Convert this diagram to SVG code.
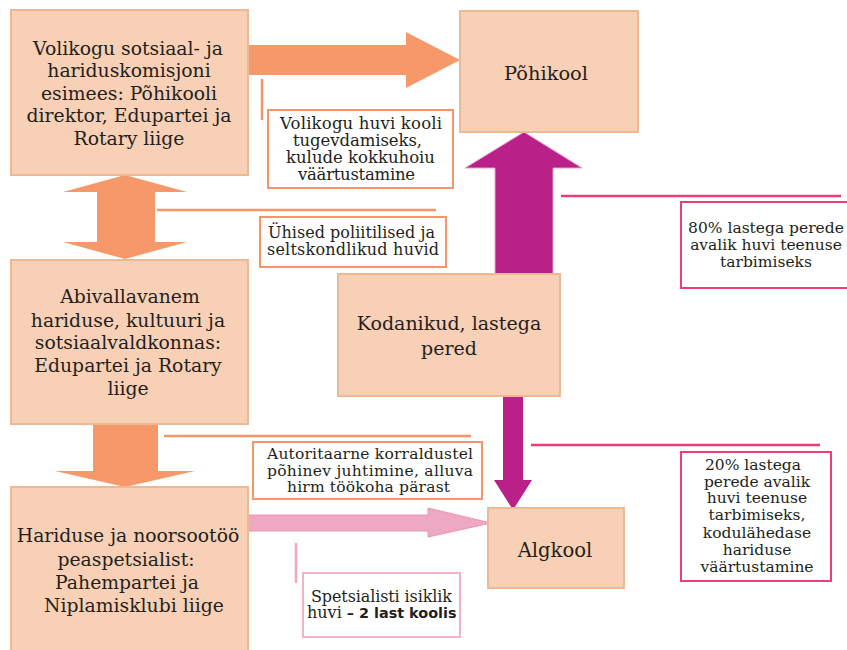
<svg xmlns="http://www.w3.org/2000/svg" width="847" height="650" viewBox="0 0 847 650">
<style>
.node rect{fill:#F8D0B6;stroke:#EDB894;stroke-width:2}
.nt{font-family:"DejaVu Serif","Liberation Serif",serif;font-size:18.8px;fill:#231F20;text-anchor:middle}
.ct{font-family:"DejaVu Serif","Liberation Serif",serif;font-size:15.5px;fill:#231F20;text-anchor:middle}
.cs{font-family:"DejaVu Serif","Liberation Serif",serif;font-size:15.5px;fill:#231F20}
.co rect{fill:#fff;stroke:#F4956A;stroke-width:2}
.cp rect{fill:#fff;stroke:#EC3D78;stroke-width:2}
.cl rect{fill:#fff;stroke:#F2B3C8;stroke-width:2}
.org{fill:#F7986A}
.mag{fill:#BA2188}
.lo{stroke:#F4956A;stroke-width:2.5;fill:none}
.lp{stroke:#EC3D78;stroke-width:2.5;fill:none}
.ll{stroke:#F0A8C2;stroke-width:2.5;fill:none}
</style>
<rect width="847" height="650" fill="#fff"/>
<g id="connectors">
<polygon class="org" points="248,45 406,45 406,32 460,60 406,88 406,75 248,75"/>
<polygon class="org" points="125,175 187,192 155,192 155,242 187,242 125,259 63,242 97,242 97,192 63,192"/>
<polygon class="org" points="93,424 158,424 158,471 195,471 125,487 55,471 93,471"/>
<polygon class="mag" points="524,132 582,168 553,168 553,275 495,275 495,168 465,168" stroke="#E9A0CC" stroke-width="1"/>
<polygon class="mag" points="503,396 523,396 523,480 532,480 513,510 494,480 503,480"/>
<polygon points="248,515 428,515 428,508 491,523 428,537 428,531 248,531" fill="#EFA8C2" stroke="#EA95B4" stroke-width="1"/>
<line class="lo" x1="262" y1="79" x2="262" y2="120"/>
<line class="lo" x1="157" y1="210" x2="436" y2="210"/>
<line class="lo" x1="164" y1="436" x2="471" y2="436"/>
<line class="ll" x1="296" y1="543" x2="296" y2="583"/>
<line class="lp" x1="561" y1="196" x2="841" y2="196"/>
<line class="lp" x1="531" y1="445" x2="820" y2="445"/>
</g>
<g id="n-volikogu" class="node">
<rect x="11" y="10" width="237" height="165"/>
<text class="nt"><tspan x="128" y="55">Volikogu sotsiaal-  ja</tspan><tspan x="129" y="77">hariduskomisjoni</tspan><tspan x="129" y="100">esimees: Põhikooli</tspan><tspan x="129" y="122">direktor, Edupartei ja</tspan><tspan x="129" y="145">Rotary liige</tspan></text>
</g>
<g id="n-pohikool" class="node">
<rect x="460" y="11" width="178" height="121"/>
<text class="nt" x="546" y="80" style="font-size:19.4px">Põhikool</text>
</g>
<g id="n-abivallavanem" class="node">
<rect x="11" y="260" width="237" height="164"/>
<text class="nt"><tspan x="130" y="303">Abivallavanem</tspan><tspan x="128" y="327">hariduse, kultuuri ja</tspan><tspan x="128" y="349">sotsiaalvaldkonnas:</tspan><tspan x="128" y="372">Edupartei ja Rotary</tspan><tspan x="128" y="395">liige</tspan></text>
</g>
<g id="n-kodanikud" class="node">
<rect x="338" y="274" width="222" height="122"/>
<text class="nt" style="font-size:19px"><tspan x="449" y="330">Kodanikud, lastega</tspan><tspan x="449" y="355">pered</tspan></text>
</g>
<g id="n-peaspetsialist" class="node">
<rect x="11" y="487" width="237" height="175"/>
<text class="nt"><tspan x="128" y="542">Hariduse ja noorsootöö</tspan><tspan x="126" y="566">peaspetsialist:</tspan><tspan x="127" y="589">Pahempartei ja</tspan><tspan x="134" y="612">Niplamisklubi liige</tspan></text>
</g>
<g id="n-algkool" class="node">
<rect x="488" y="508" width="136" height="80"/>
<text class="nt" x="555" y="557" style="font-size:19.6px">Algkool</text>
</g>
<g id="l-volikogu-huvi" class="co">
<rect x="268" y="110" width="185" height="78"/>
<text class="cs" style="font-size:16.5px" x="280" y="129" textLength="162" lengthAdjust="spacing">Volikogu huvi kooli</text>
<text class="cs" style="font-size:16.5px" x="293" y="146" textLength="129" lengthAdjust="spacing">tugevdamiseks,</text>
<text class="cs" style="font-size:16.5px" x="286" y="163" textLength="149" lengthAdjust="spacing">kulude kokkuhoiu</text>
<text class="cs" style="font-size:16.5px" x="298" y="180" textLength="117" lengthAdjust="spacing">väärtustamine</text>
</g>
<g id="l-uhised" class="co">
<rect x="260" y="217" width="186" height="50"/>
<text class="cs" style="font-size:16px" x="268" y="238" textLength="167" lengthAdjust="spacing">Ühised poliitilised ja</text>
<text class="cs" style="font-size:16px" x="267" y="255" textLength="172" lengthAdjust="spacing">seltskondlikud huvid</text>
</g>
<g id="l-autoritaarne" class="co">
<rect x="253" y="442" width="229" height="57"/>
<text class="cs" x="267" y="459" textLength="206" lengthAdjust="spacing">Autoritaarne korraldustel</text>
<text class="cs" x="267" y="476" textLength="206" lengthAdjust="spacing">põhinev juhtimine, alluva</text>
<text class="cs" x="287" y="492" textLength="163" lengthAdjust="spacing">hirm töökoha pärast</text>
</g>
<g id="l-spetsialist" class="cl">
<rect x="303" y="573" width="157" height="64"/>
<text class="cs" style="font-size:16px" x="311" y="602" textLength="141" lengthAdjust="spacing">Spetsialisti isiklik</text>
<text class="cs" style="font-size:16px" x="307" y="618">huvi<tspan font-family="'DejaVu Sans',Verdana,sans-serif" font-weight="bold" font-size="14.4px"> – 2 last koolis</tspan></text>
</g>
<g id="l-80" class="cp">
<rect x="681" y="202" width="170" height="86"/>
<text class="ct"><tspan x="766" y="233">80% lastega perede</tspan><tspan x="766" y="250">avalik huvi teenuse</tspan><tspan x="766" y="267">tarbimiseks</tspan></text>
</g>
<g id="l-20" class="cp">
<rect x="681" y="452" width="150" height="129"/>
<text class="ct"><tspan x="753" y="470">20% lastega</tspan><tspan x="757" y="487">perede avalik</tspan><tspan x="757" y="503">huvi teenuse</tspan><tspan x="757" y="520">tarbimiseks,</tspan><tspan x="757" y="538">kodulähedase</tspan><tspan x="757" y="555">hariduse</tspan><tspan x="757" y="572">väärtustamine</tspan></text>
</g>
</svg>
